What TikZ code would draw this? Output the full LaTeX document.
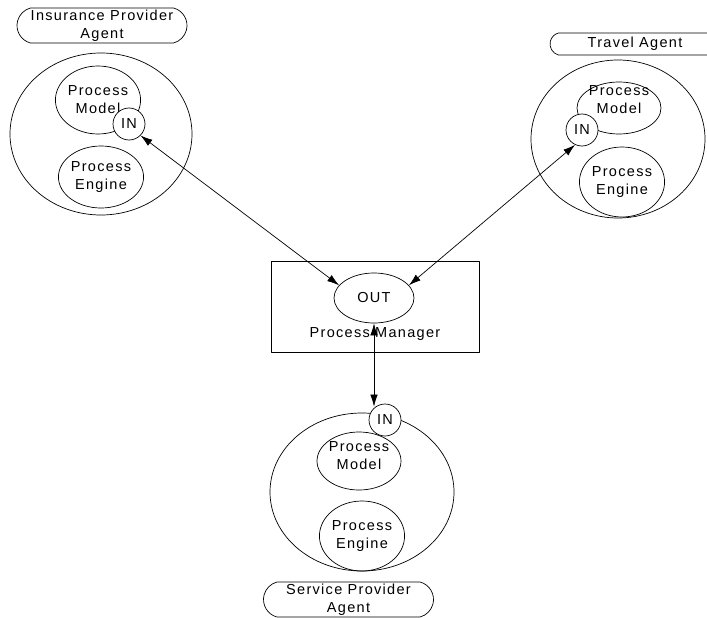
\documentclass[tikz,border=0pt]{standalone}
\usepackage{fontspec}
\setmainfont{Liberation Sans}[LetterSpace=9]
\usetikzlibrary{shapes.geometric,shapes.misc,arrows.meta}

\begin{document}
\begin{tikzpicture}[x=1pt,y=-1pt,line cap=round,line join=round,line width=0.7pt,
  font=\fontsize{14.5}{18}\selectfont,
  agent/.style={draw,ellipse,inner sep=0pt},
  part/.style={draw,ellipse,inner sep=0pt,align=center,minimum width=84pt},
  port/.style={draw,circle,fill=white,inner sep=0pt,minimum size=32pt},
  tag/.style={draw,rounded rectangle,rounded rectangle arc length=150,align=center,inner sep=0pt,minimum width=170pt},
  >={Latex[length=12pt,width=7.5pt]}]
\useasboundingbox (0,0) rectangle (707,618);

% the three agents
\node[agent,minimum width=182pt,minimum height=162pt] (insurance) at (101,134) {};
\node[agent,minimum width=174pt,minimum height=158pt] (travel) at (618,139) {};
\node[agent,minimum width=184pt,minimum height=158pt] (service) at (362,492) {};

\node[tag,minimum height=35pt] (insurancetag) at (102,25.5) {Insurance Provider\\Agent};
\node[tag,minimum height=22pt] (traveltag) at (635,44) {Travel Agent};
\node[tag,minimum height=35pt] (servicetag) at (348.5,599.5) {Service Provider\\Agent};

% models and engines
\node[part,minimum width=82pt,minimum height=68pt] (insurancemodel) at (98,100) {Process\\Model};
\node[part,minimum height=62pt] (insuranceengine) at (101,177) {Process\\Engine};
\node[part,minimum height=52pt] (travelmodel) at (619,108) {};
\node[align=center] (travelmodeltext) at (619,100) {Process\\Model};
\node[part,minimum height=70pt] (travelengine) at (622,182) {Process\\Engine};
\node[part,minimum height=58pt] (servicemodel) at (359,461) {};
\node[align=center] (servicemodeltext) at (359,456) {Process\\Model};
\node[part,minimum height=70pt] (serviceengine) at (362,536) {Process\\Engine};

% ports
\node[port] (insurancein) at (129,124) {IN};
\node[port] (travelin) at (582,130) {IN};
\node[port] (servicein) at (385,420) {IN};

% process manager
\node[draw,line width=0.9pt,minimum width=208pt,minimum height=91pt] (manager) at (375,306.5) {};
\node (managertext) at (375,334) {Process Manager};
\node[draw,ellipse,inner sep=0pt,minimum width=80pt,minimum height=50pt] (out) at (374,298) {OUT};

\draw[<->] (out.160) -- (insurancein.-45);
\draw[<->] (out.20) -- (travelin.-115);
\draw[<->] (out.south) -- (out.south |- servicein.125);
\end{tikzpicture}
\end{document}
